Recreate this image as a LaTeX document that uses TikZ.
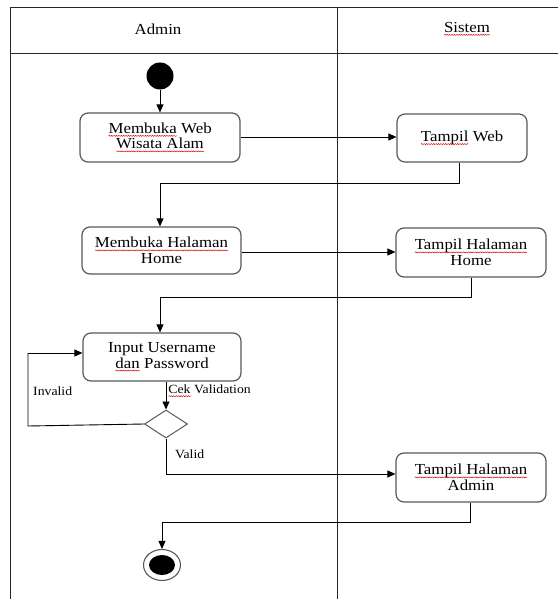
\documentclass[tikz,border=0pt]{standalone}
\usepackage{fontspec}
\setmainfont[FakeStretch=1.1]{Liberation Serif}
\usetikzlibrary{arrows.meta,shapes.geometric,decorations.pathmorphing}
% red wavy underline (spell-check marks); all inherited node settings are reset
\newcommand\sq[1]{\tikz[baseline=(w.base), x=1pt, y=1pt, sharp corners]{%
  \node[rectangle, draw=none, fill=none, inner sep=0pt, outer sep=0pt,
    minimum width=0pt, minimum height=0pt, sharp corners] (w) {#1};
  \draw[red!85!black, line width=0.45pt, sharp corners, decorate,
    decoration={snake, amplitude=0.55pt, segment length=2.4pt}]
    ([yshift=-2.4pt]w.base west) -- ([yshift=-2.4pt]w.base east);}}
\tikzset{
  act/.style={draw=black!65, line width=1.2pt, rounded corners=8pt, fill=white,
    align=center, inner sep=0pt, font=\fontsize{15.3}{15.5}\selectfont},
  flow/.style={draw=black, line width=0.9pt, -{Triangle[length=8pt,width=7pt]}},
  plain/.style={draw=black, line width=0.9pt},
  lbl/.style={font=\fontsize{12.5}{13}\selectfont, inner sep=0pt},
  lane/.style={draw=black!85, line width=1pt},
}
\begin{document}
\begin{tikzpicture}[x=1pt,y=-1pt]
\useasboundingbox (0,0) rectangle (558,599);
% swimlanes (open to the right and below)
\draw[lane] (558,8) -- (10,8) -- (10,599);
\draw[lane] (10,54) -- (558,54);
\draw[lane] (337,8) -- (337,599);
\node[font=\fontsize{15.3}{15.5}\selectfont] (hAdmin) at (158,29) {Admin};
\node[font=\fontsize{15.3}{15.5}\selectfont] (hSistem) at (467,29) {\sq{Sistem}};

% nodes
\node[circle, fill=black, minimum size=27pt, inner sep=0pt] (start) at (160,76) {};
\node[act, minimum width=160pt, minimum height=49pt] (a1) at (160,137.5)
  {\sq{Membuka} Web\\\sq{Wisata Alam}};
\node[act, minimum width=130pt, minimum height=48pt] (s1) at (462,138)
  {\sq{Tampil} Web};
\node[act, minimum width=159pt, minimum height=47pt] (a2) at (161.5,250.5)
  {\sq{Membuka Halaman}\\Home};
\node[act, minimum width=150pt, minimum height=49pt] (s2) at (471,252.5)
  {\sq{Tampil Halaman}\\Home};
\node[act, minimum width=158pt, minimum height=48pt] (a3) at (162,357)
  {Input Username\\\sq{dan} Password};
\node[diamond, draw=black!65, line width=1pt, minimum width=43pt, minimum height=28pt,
  inner sep=0pt, aspect=1.5] (dec) at (166,424) {};
\node[act, minimum width=150pt, minimum height=49pt] (s3) at (471,477.5)
  {\sq{Tampil Halaman}\\Admin};
\node[ellipse, draw=black!65, line width=1.1pt, minimum width=37pt, minimum height=31pt,
  inner sep=0pt] (end) at (162,565) {};
\node[ellipse, fill=black, minimum width=26pt, minimum height=20pt, inner sep=0pt]
  (endDot) at (162,565) {};

% bend points
\coordinate (b1) at (459,183);
\coordinate (b2) at (160,183);
\coordinate (b3) at (471,297);
\coordinate (b4) at (160,297);
\coordinate (b5) at (28,426);
\coordinate (b6) at (28,353);
\coordinate (b7) at (166,474);
\coordinate (b8) at (470,522);
\coordinate (b9) at (162,522);

% connectors
\draw[flow] (start) -- (a1);
\draw[flow] (a1.east |- 0,137) -- (s1.west |- 0,137);
\draw[plain] (s1.south -| b1) -- (b1) -- (b2);
\draw[flow] (b2) -- (a2.north -| b2);
\draw[flow] (a2.east |- 0,252) -- (s2.west |- 0,252);
\draw[plain] (s2.south -| b3) -- (b3) -- (b4);
\draw[flow] (b4) -- (a3.north -| b4);
\draw[flow] (a3.south -| dec.north) -- (dec.north);
\draw[plain] (dec.west) -- (b5) -- (b6);
\draw[flow] (b6) -- (a3.west |- b6);
\draw[plain] (dec.south) -- (b7);
\draw[flow] (b7) -- (s3.west |- b7);
\draw[plain] (s3.south -| b8) -- (b8) -- (b9);
\draw[flow] (b9) -- (end.north);

% guard labels
\node[lbl, anchor=west] (lInvalid) at (33,391) {Invalid};
\node[lbl, anchor=west] (lCek) at (168,391) {\sq{Cek} Validation};
\node[lbl, anchor=west] (lValid) at (175,454) {Valid};
\end{tikzpicture}
\end{document}
